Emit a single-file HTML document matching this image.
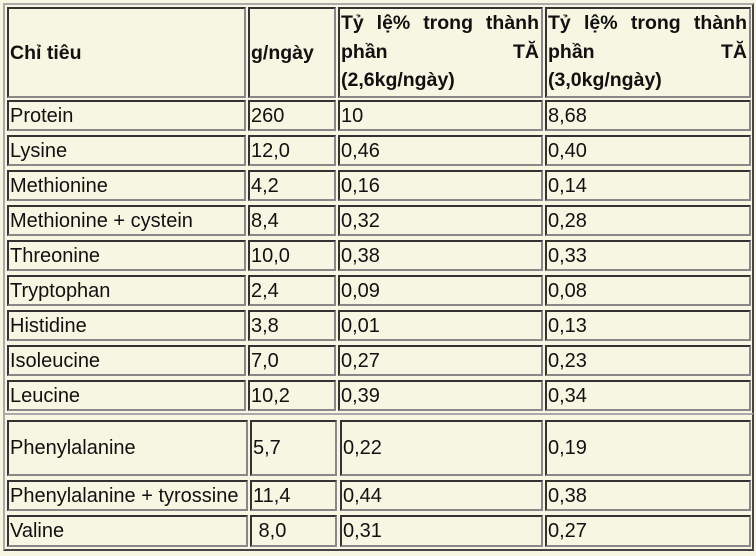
<!DOCTYPE html>
<html><head><meta charset="utf-8"><style>
html,body{margin:0;padding:0;background:#f6f6e2;width:756px;height:556px;overflow:hidden;font-family:"Liberation Sans",Arial,sans-serif;color:#111}
.t{position:absolute;border:2px solid;border-color:#aaa #444 #444 #aaa;box-sizing:border-box}
.c{position:absolute;box-sizing:border-box;border:2px solid;border-color:#333 #888 #888 #333;font-size:20px;line-height:30px;padding-left:1px;white-space:nowrap;display:flex;align-items:center}
.h{font-weight:bold;font-size:19.5px}
.j{display:block;line-height:28.5px;padding-top:0px;text-align:justify;white-space:normal;padding-right:2px}
.j span{display:block;text-align-last:justify}
.j span.l{text-align-last:left}
</style></head><body>
<div class="t" style="left:3px;top:3px;width:751px;height:412px"></div>
<div class="t" style="left:3px;top:413px;width:751px;height:138px"></div>
<div class="c h" style="left:7px;top:7px;width:239px;height:91px">Chỉ tiêu</div>
<div class="c h" style="left:248px;top:7px;width:88px;height:91px">g/ngày</div>
<div class="c h j" style="left:338px;top:7px;width:205px;height:91px"><span>Tỷ lệ% trong thành</span><span>phần TĂ</span><span class="l">(2,6kg/ngày)</span></div>
<div class="c h j" style="left:545px;top:7px;width:206px;height:91px"><span>Tỷ lệ% trong thành</span><span>phần TĂ</span><span class="l">(3,0kg/ngày)</span></div>
<div id="rows"></div>
<script>
var r=[["Protein","260","10","8,68"],["Lysine","12,0","0,46","0,40"],["Methionine","4,2","0,16","0,14"],["Methionine + cystein","8,4","0,32","0,28"],["Threonine","10,0","0,38","0,33"],["Tryptophan","2,4","0,09","0,08"],["Histidine","3,8","0,01","0,13"],["Isoleucine","7,0","0,27","0,23"],["Leucine","10,2","0,39","0,34"]];
var b=[["Phenylalanine","5,7","0,22","0,19",420,56],["Phenylalanine + tyrossine","11,4","0,44","0,38",480,31],["Valine","&nbsp;8,0","0,31","0,27",515,32]];
var h="";
var X1=[[7,239],[248,88],[338,205],[545,206]],X2=[[7,241],[250,87],[340,203],[545,206]];
r.forEach(function(e,i){var y=100+i*35;for(var k=0;k<4;k++)h+='<div class="c" style="left:'+X1[k][0]+'px;top:'+y+'px;width:'+X1[k][1]+'px;height:31px">'+e[k]+'</div>';});
b.forEach(function(e){for(var k=0;k<4;k++)h+='<div class="c" style="left:'+X2[k][0]+'px;top:'+e[4]+'px;width:'+X2[k][1]+'px;height:'+e[5]+'px">'+e[k]+'</div>';});
document.getElementById("rows").innerHTML=h;
</script>
</body></html>
